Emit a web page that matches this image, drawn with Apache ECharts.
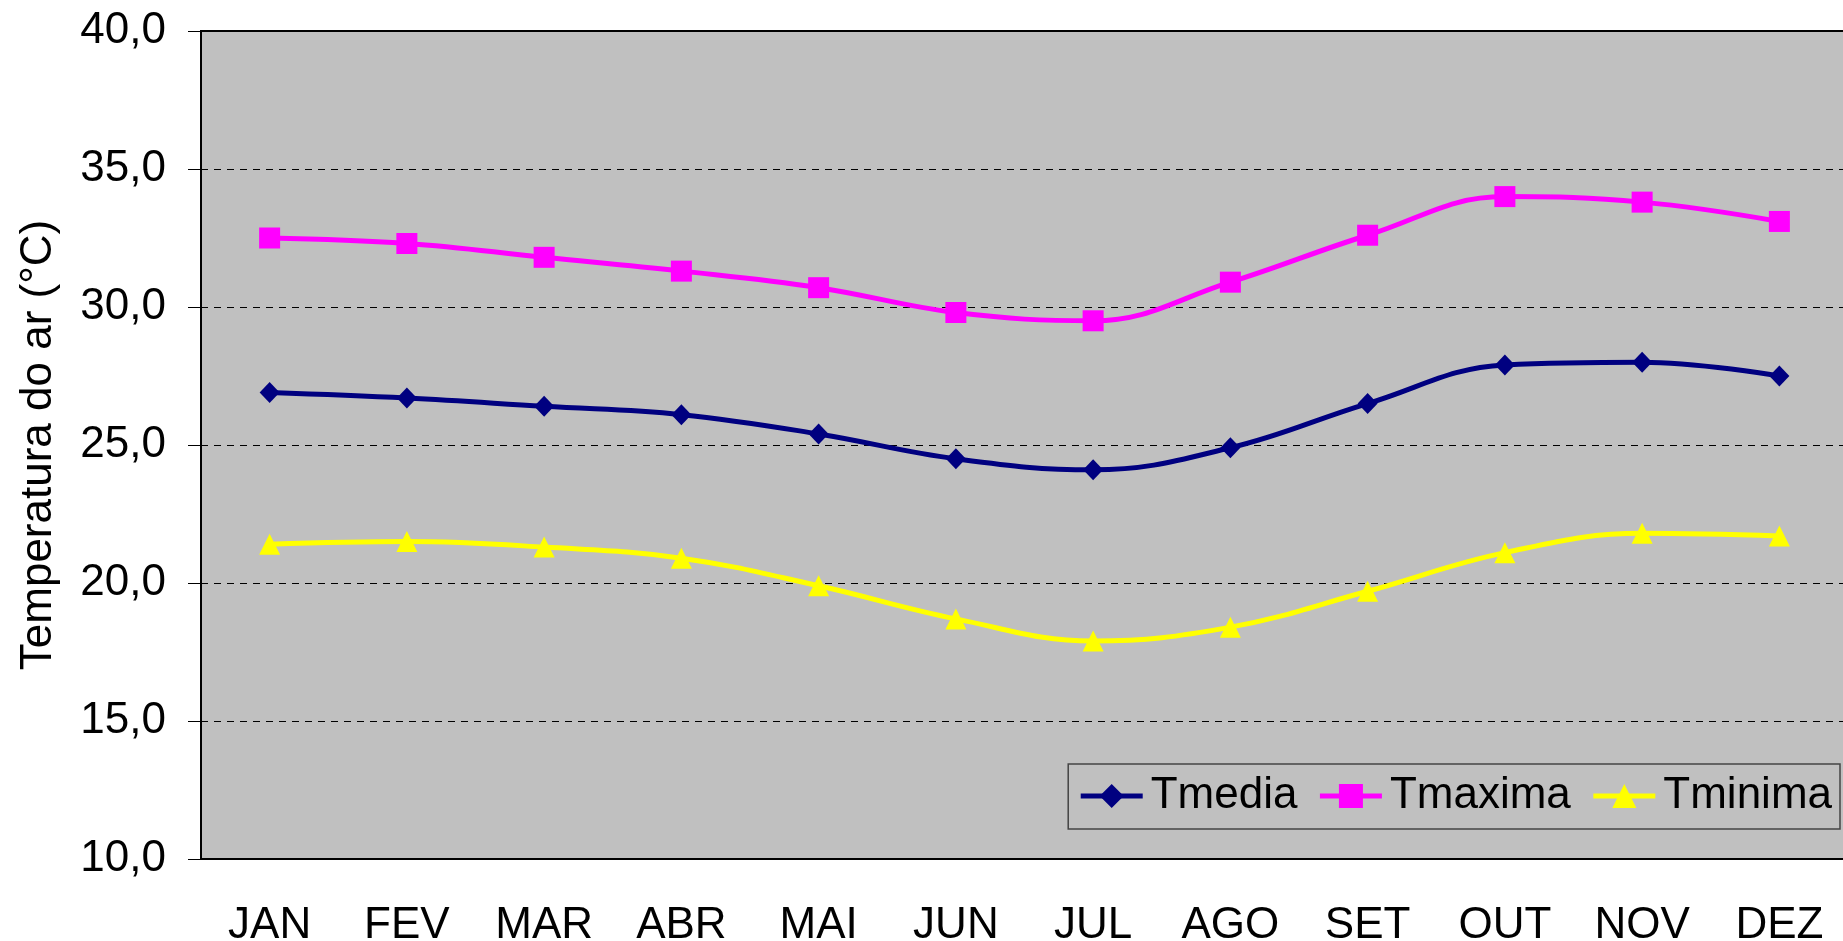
<!DOCTYPE html>
<html>
<head>
<meta charset="utf-8">
<script src="https://cdn.jsdelivr.net/npm/echarts@6/dist/echarts.min.js"></script>
<style>
  html, body { margin: 0; padding: 0; background: #fff; }
  #chart { width: 1843px; height: 941px; }
</style>
</head>
<body>
<div id="chart"></div>
<script>
const months = ['JAN', 'FEV', 'MAR', 'ABR', 'MAI', 'JUN', 'JUL', 'AGO', 'SET', 'OUT', 'NOV', 'DEZ']
const tmedia = [26.9, 26.7, 26.4, 26.1, 25.4, 24.5, 24.1, 24.9, 26.5, 27.9, 28.0, 27.5]
const tmaxima = [32.5, 32.3, 31.8, 31.3, 30.7, 29.8, 29.5, 30.9, 32.6, 34.0, 33.8, 33.1]
const tminima = [21.4, 21.5, 21.3, 20.9, 19.9, 18.7, 17.9, 18.4, 19.7, 21.1, 21.8, 21.7]

const FONT = '"Liberation Sans", Arial, sans-serif'

let chart = echarts.init(document.getElementById('chart'))

function lineSeries (name, data, color, symbol, size) {
  return {
    name: name,
    type: 'line',
    data: data,
    smooth: 0.4,
    symbol: symbol,
    symbolSize: size,
    showSymbol: true,
    lineStyle: { color: color, width: 5 },
    itemStyle: { color: color, borderWidth: 0 },
    emphasis: { disabled: true },
    animation: false
  }
}

chart.setOption({
  backgroundColor: '#fff',
  textStyle: { fontFamily: FONT },
  grid: {
    left: 201,
    top: 31,
    width: 1647,
    height: 828,
    outerBoundsMode: 'none',
    show: true,
    backgroundColor: '#C0C0C0',
    borderColor: '#000',
    borderWidth: 2
  },
  legend: {
    right: 3,
    top: 764,
    orient: 'horizontal',
    padding: [10, 8, 11, 10],
    itemGap: 20,
    itemWidth: 62,
    itemHeight: 30,
    borderColor: '#444',
    borderWidth: 1.5,
    backgroundColor: '#C0C0C0',
    lineStyle: { width: 5 },
    textStyle: { fontFamily: FONT, fontSize: 44, color: '#000', padding: [0, 0, 0, 3] },
    data: ['Tmedia', 'Tmaxima', 'Tminima']
  },
  xAxis: {
    type: 'category',
    data: months,
    boundaryGap: true,
    axisLine: { lineStyle: { color: '#000', width: 2 } },
    axisTick: { length: 14, lineStyle: { color: '#000', width: 1 } },
    axisLabel: { fontFamily: FONT, fontSize: 44, color: '#000', margin: 45 },
    splitLine: { show: false }
  },
  yAxis: {
    type: 'value',
    min: 10,
    max: 40,
    interval: 5,
    name: 'Temperatura do ar (°C)',
    nameLocation: 'middle',
    nameRotate: 90,
    nameGap: 140,
    nameTextStyle: { fontFamily: FONT, fontSize: 44, color: '#000' },
    axisLine: { show: true, lineStyle: { color: '#000', width: 2 } },
    axisTick: { show: true, length: 13, lineStyle: { color: '#000', width: 1 } },
    axisLabel: {
      fontFamily: FONT,
      fontSize: 44,
      color: '#000',
      margin: 35,
      formatter: v => v.toFixed(1).replace('.', ',')
    },
    splitLine: {
      show: true,
      lineStyle: { color: '#000', width: 1, type: [7, 6] }
    }
  },
  series: [
    lineSeries('Tmedia', tmedia, '#000080', 'diamond', [20, 21]),
    lineSeries('Tmaxima', tmaxima, '#FF00FF', 'rect', [21, 21]),
    lineSeries('Tminima', tminima, '#FFFF00', 'triangle', [21, 21])
  ]
})
</script>
</body>
</html>
